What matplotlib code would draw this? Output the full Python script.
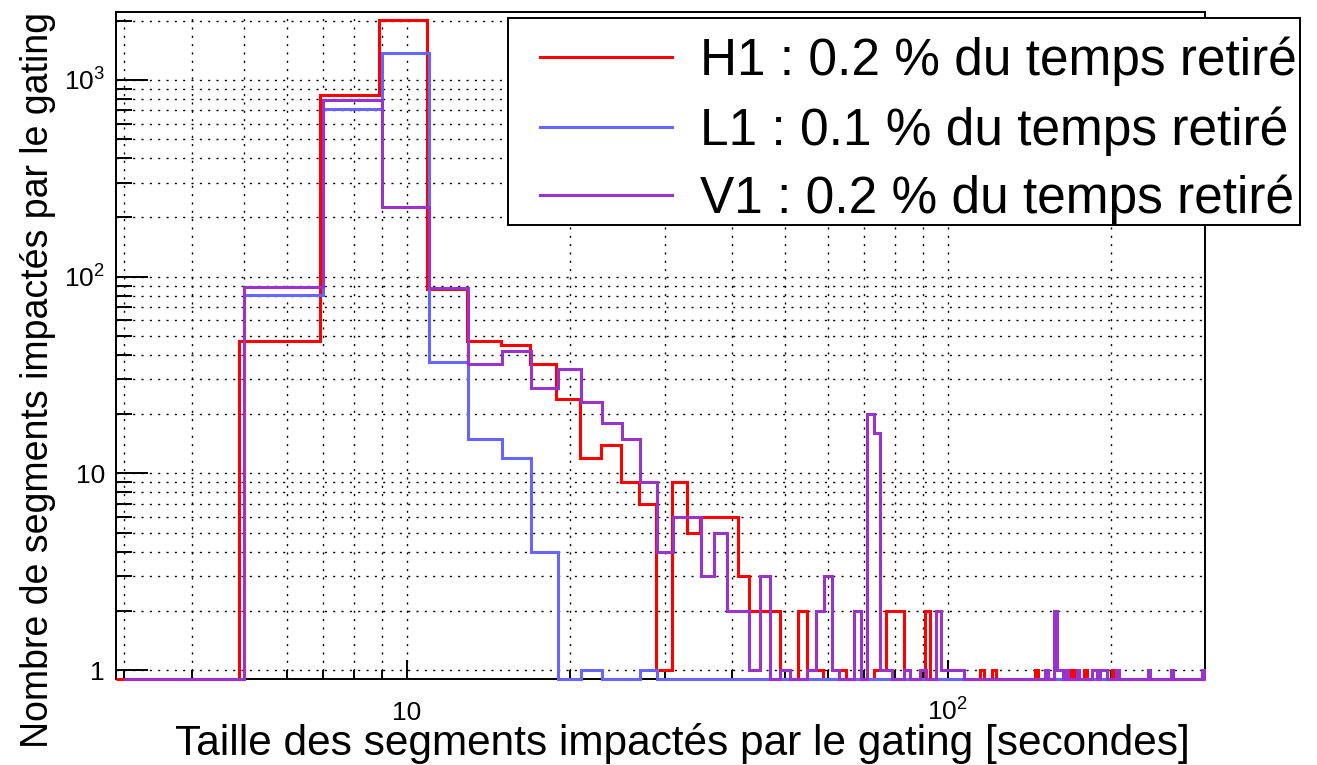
import numpy as np
import matplotlib
matplotlib.use('Agg')
import matplotlib.pyplot as plt
from matplotlib.ticker import FixedLocator, FixedFormatter, LogLocator, NullFormatter
from matplotlib.lines import Line2D
from matplotlib.patches import Rectangle

plt.rcParams['font.family'] = ['Liberation Sans', 'DejaVu Sans']
plt.rcParams['mathtext.fontset'] = 'custom'
plt.rcParams['mathtext.rm'] = 'Liberation Sans'
plt.rcParams['mathtext.it'] = 'Liberation Sans:italic'
plt.rcParams['mathtext.bf'] = 'Liberation Sans:bold'

# --- binning : 2 s bins starting at 3 s (H1 histogram is shifted by -0.1 s)
first_edge = 3
bin_width = 2
n_bins = 148
h1_shift = -0.1

# counts of the bins [3,5), [5,7), ... [105,107)
h1_head = [0, 47, 840, 2010, 86,
           47, 45, 36, 24, 12,
           14, 9, 7, 1, 9,
           5, 6, 6, 6, 3,
           2, 2, 2, 0, 0,
           2, 1, 1, 0, 0,
           1, 0, 0, 0, 0,
           1, 1, 2, 2, 2,
           0, 0, 0, 0, 2,
           0, 0, 0, 0, 0,
           0, 0]
l1_head = [0, 81, 710, 1375, 37,
           15, 12, 4, 0, 1,
           0, 0, 1, 0, 0]
v1_head = [0, 89, 790, 225, 88,
           36, 42, 27, 34, 23,
           18, 15, 9, 4, 6,
           6, 3, 5, 2, 2,
           1, 3, 0, 1, 0,
           0, 1, 2, 3, 1,
           0, 0, 2, 0, 20,
           16, 1, 1, 0, 0,
           1, 0, 0, 1, 0,
           0, 2, 1, 1, 1,
           1, 1]

# isolated bins further out (lower edge of the bin, count)
h1_tail_bins = [115, 121, 145, 169, 179, 201]
h1_tail_counts = [1, 1, 1, 1, 1, 1]
v1_tail_bins = [151, 157, 159, 161, 165, 173, 185, 187, 191, 193, 195, 205, 235, 259, 295]
v1_tail_counts = [1, 2, 1, 1, 1, 1, 1, 1, 1, 1, 1, 1, 1, 1, 1]

labels = ['H1 : 0.2 % du temps retiré',
          'L1 : 0.1 % du temps retiré',
          'V1 : 0.2 % du temps retiré']
colors = ['#ff0000', '#6666ff', '#9933cc']

x_range = (2.9, 298.9)
y_range = (0.897, 2222)


def full_counts(head, tail_bins=(), tail_counts=()):
    c = np.zeros(n_bins)
    c[:len(head)] = head
    if len(tail_bins):
        idx = (np.array(tail_bins) - first_edge) // bin_width
        c[idx] = tail_counts
    return c


edges = first_edge + bin_width * np.arange(n_bins + 1)
hists = [
    (full_counts(h1_head, h1_tail_bins, h1_tail_counts), edges + h1_shift),
    (full_counts(l1_head), np.minimum(edges, x_range[1])),
    (full_counts(v1_head, v1_tail_bins, v1_tail_counts), np.minimum(edges, x_range[1])),
]

W, H = 1317, 765
fig = plt.figure(figsize=(W / 100, H / 100), dpi=100)
ax = fig.add_axes([116 / W, 1 - 679.3 / H, (1205 - 116) / W, (679.3 - 11.7) / H])
ax.set_xscale('log')
ax.set_yscale('log')
ax.set_xlim(*x_range)
ax.set_ylim(*y_range)

for (counts, e), col in zip(hists, colors):
    # empty bins are drawn on the bottom of the frame, as ROOT does
    vals = np.where(counts > 0, counts, y_range[0])
    ax.stairs(vals, e, baseline=None, color=col, lw=2.2, clip_on=False, zorder=3)

# ticks & grid
ax.xaxis.set_major_locator(FixedLocator([10, 100]))
ax.xaxis.set_major_formatter(FixedFormatter(['10', r'$\mathdefault{10^{2}}$']))
ax.xaxis.set_minor_locator(LogLocator(base=10, subs=np.arange(2, 10), numticks=20))
ax.xaxis.set_minor_formatter(NullFormatter())
ax.yaxis.set_major_locator(FixedLocator([1, 10, 100, 1000]))
ax.yaxis.set_major_formatter(FixedFormatter(['1', '10', r'$\mathdefault{10^{2}}$',
                                             r'$\mathdefault{10^{3}}$']))
ax.yaxis.set_minor_locator(LogLocator(base=10, subs=np.arange(2, 10), numticks=20))
ax.yaxis.set_minor_formatter(NullFormatter())

ax.set_axisbelow(True)
ax.grid(which='both', color='black', linestyle=(0, (1.5, 4.5)), linewidth=1.0)
ax.tick_params(which='both', direction='in', top=False, right=False, width=1.4,
               labelsize=19, colors='black')
ax.tick_params(axis='x', which='major', length=14, pad=29.5)
ax.tick_params(axis='x', which='minor', length=6.5)
ax.tick_params(axis='y', which='major', length=23, pad=8)
ax.tick_params(axis='y', which='minor', length=11.5)
for lab in ax.get_xticklabels():
    lab.set_verticalalignment('baseline')
for sp in ax.spines.values():
    sp.set_linewidth(1.4)

# axis titles (right aligned like ROOT)
fig.text(1190 / W, 1 - 755 / H, 'Taille des segments impactés par le gating [secondes]',
         fontsize=30.5, ha='right', va='baseline')
fig.text(48 / W, 1 - 12 / H, 'Nombre de segments impactés par le gating',
         fontsize=27, rotation=90, rotation_mode='anchor', ha='right', va='baseline')

# legend box
fig.add_artist(Rectangle((508 / W, 1 - 225 / H), (1300 - 508) / W, (225 - 18) / H,
                         transform=fig.transFigure, facecolor='white',
                         edgecolor='black', lw=1.4, zorder=5))
for i, (lab, col) in enumerate(zip(labels, colors)):
    yl = [57, 127, 195][i]
    fig.add_artist(Line2D([540 / W, 672 / W], [1 - yl / H, 1 - yl / H],
                          transform=fig.transFigure, color=col, lw=2.2, zorder=6))
    fig.text(700 / W, 1 - (yl + 18) / H, lab, fontsize=37, ha='left', va='baseline',
             zorder=6)

fig.savefig('out.png', dpi=100)
